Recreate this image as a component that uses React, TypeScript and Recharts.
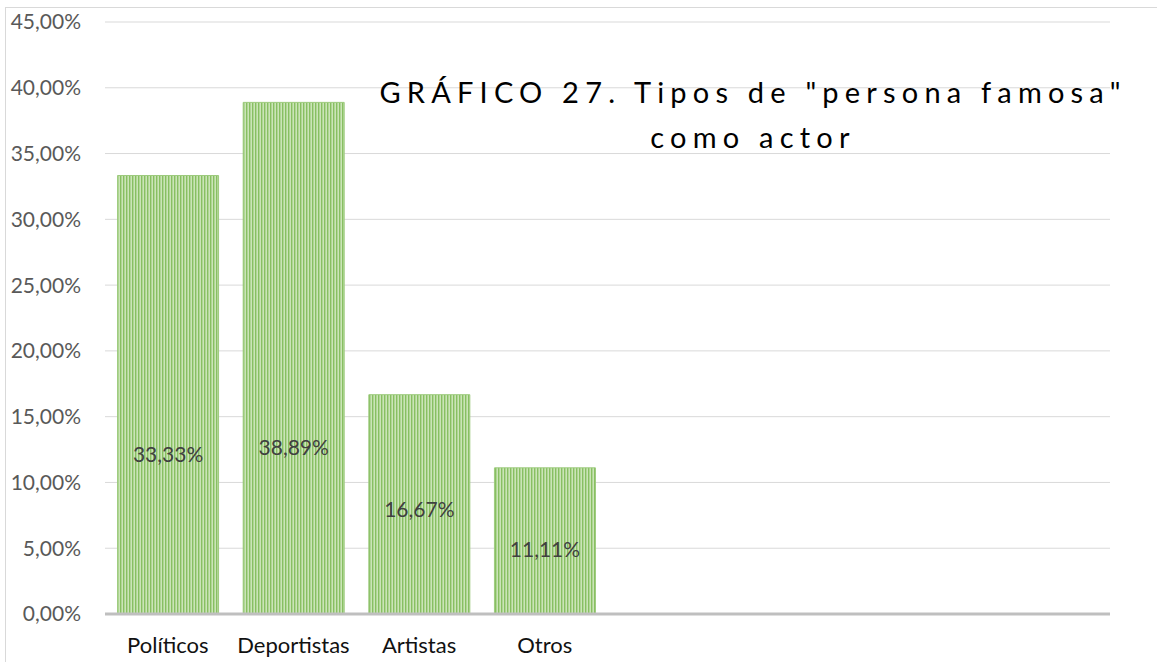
import { BarChart, Bar, XAxis, YAxis, CartesianGrid, LabelList } from "recharts";

// categorías del gráfico (las 4 últimas están vacías en el original)
const categories = ["Políticos", "Deportistas", "Artistas", "Otros", "", "", "", ""];
const shares: (number | null)[] = [33.33, 38.89, 16.67, 11.11, null, null, null, null];
// altura (en %) donde Excel dejó cada etiqueta
const labelLevels = [12.2, 12.75, 8.05, 5.0];
const yTicks = [0, 5, 10, 15, 20, 25, 30, 35, 40, 45];

const titleLines = ['GRÁFICO 27. Tipos de "persona famosa"', "como actor"];

const FONT = "Lato, 'Open Sans', sans-serif";

const fmt = (v: number) => v.toFixed(2).replace(".", ",") + "%";

function BarLabel(props: any) {
  const { x, y, width, height, value, index } = props;
  if (value == null) return null;
  const ly = y + height - height * (labelLevels[index] / value);
  return (
    <text
      x={x + width / 2}
      y={ly}
      textAnchor="middle"
      dominantBaseline="central"
      fontSize={21}
      fontFamily={FONT}
      fill="#404040"
    >
      {fmt(value)}
    </text>
  );
}

export default function App() {
  const data = categories.map((name, i) => ({ key: `c${i}`, name, value: shares[i] }));

  return (
    <div style={{ position: "fixed", left: 0, top: 0, width: 1157, height: 662, overflow: "hidden", background: "#fff" }}>
      <div
        style={{
          position: "absolute",
          left: 5,
          top: 7,
          width: 1200,
          height: 700,
          border: "1px solid #d9d9d9",
        }}
      />
      <div style={{ position: "absolute", left: 0, top: 0 }}>
        <BarChart
          width={1157}
          height={662}
          data={data}
          margin={{ top: 22, right: 47, left: 0, bottom: 0 }}
          barCategoryGap="10%"
        >
          <defs>
            <pattern id="stripes" width="3" height="10" patternUnits="userSpaceOnUse">
              <rect x="0" y="0" width="1" height="10" fill="#88bf62" />
              <rect x="1" y="0" width="1" height="10" fill="#afd694" />
              <rect x="2" y="0" width="1" height="10" fill="#cbe4b8" />
            </pattern>
          </defs>
          <CartesianGrid vertical={false} stroke="#d9d9d9" strokeWidth={1} />
          <XAxis
            dataKey="key"
            tickFormatter={(_v: string, i: number) => categories[i]}
            axisLine={{ stroke: "#bfbfbf", strokeWidth: 3 }}
            tickLine={false}
            tickSize={0}
            tickMargin={23}
            height={48}
            interval={0}
            tick={{ fontSize: 22, fontFamily: FONT, fill: "#111" }}
          />
          <YAxis
            domain={[0, 45]}
            ticks={yTicks}
            tickFormatter={fmt}
            axisLine={false}
            tickLine={false}
            tickSize={0}
            tickMargin={24}
            width={105}
            interval={0}
            tick={{ fontSize: 21, fontFamily: FONT, fill: "#595959" }}
          />
          <Bar dataKey="value" fill="url(#stripes)" stroke="#9cca7c" strokeWidth={1} isAnimationActive={false}>
            <LabelList dataKey="value" content={BarLabel} />
          </Bar>
          <text x={753} y={103} fontSize={29} fontFamily={FONT} fill="#000" letterSpacing={6.2} textAnchor="middle">
            {titleLines[0]}
          </text>
          <text x={753} y={148} fontSize={29} fontFamily={FONT} fill="#000" letterSpacing={6.2} textAnchor="middle">
            {titleLines[1]}
          </text>
        </BarChart>
      </div>
    </div>
  );
}
